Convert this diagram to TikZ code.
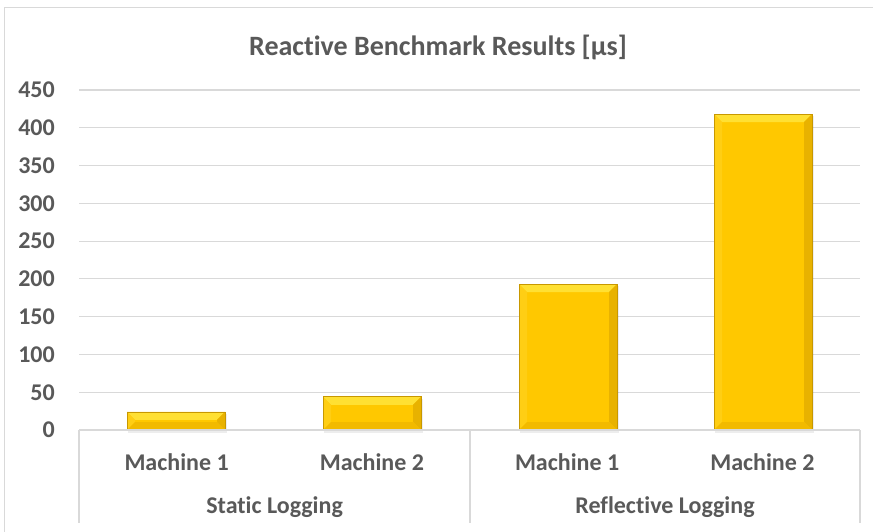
\documentclass[tikz,border=0pt]{standalone}
\usepackage{fontspec}
\setmainfont[Ligatures={NoCommon,NoDiscretionary,NoContextual}]{Carlito}
\begin{document}
\begin{tikzpicture}[x=1pt,y=-1pt,
  lbl/.style={text=txtgray,font=\bfseries\fontsize{24}{24}\selectfont,inner sep=0pt},
  grid/.style={draw=gridgray,line width=1.2pt},
  sep/.style={draw=gridgray,line width=1.2pt}]
\definecolor{txtgray}{HTML}{595959}
\definecolor{gridgray}{HTML}{D9D9D9}
\definecolor{goldmid}{HTML}{FFC800}
\definecolor{goldtop}{HTML}{FFE033}
\definecolor{goldleft}{HTML}{FFCE14}
\definecolor{goldright}{HTML}{E8B200}
\definecolor{goldbot}{HTML}{F2BA00}
\definecolor{goldline}{HTML}{C89800}
\useasboundingbox (0,0) rectangle (873,532);
% white page and outer frame
\fill[white] (0,0) rectangle (873,532);
\draw[gridgray,line width=1.2pt] (4.5,7.5) rectangle (890,560);
% title
\node[text=txtgray,font=\bfseries\fontsize{28}{28}\selectfont,inner sep=0pt] (title) at (438,47) {Reactive Benchmark Results [µs]};
% horizontal gridlines and value labels (340 px span for 450 units)
\foreach \v in {50,100,...,450}{
  \pgfmathsetmacro\yy{430-\v*0.755556}
  \draw[grid] (79,\yy) -- (860,\yy);
}
\foreach \v in {0,50,...,450}{
  \pgfmathsetmacro\yy{430-\v*0.755556}
  \node[lbl,anchor=east] (tick\v) at (55,\yy) {\v};
}
% bevelled bars: centre x, value
\newcommand\goldbar[2]{%
  \pgfmathsetmacro\xl{#1-49}%
  \pgfmathsetmacro\xr{#1+49}%
  \pgfmathsetmacro\yt{430-#2*0.755556}%
  \pgfmathsetmacro\yb{430}%
  \fill[black,opacity=0.07] (\xl+1,\yt+2) rectangle (\xr+2,\yb+3);
  \fill[goldmid] (\xl,\yt) rectangle (\xr,\yb);
  \fill[goldtop] (\xl,\yt) -- (\xr,\yt) -- (\xr-8,\yt+8) -- (\xl+8,\yt+8) -- cycle;
  \fill[goldleft] (\xl,\yt) -- (\xl+8,\yt+8) -- (\xl+8,\yb-8) -- (\xl,\yb) -- cycle;
  \fill[goldright] (\xr,\yt) -- (\xr-8,\yt+8) -- (\xr-8,\yb-8) -- (\xr,\yb) -- cycle;
  \fill[goldbot] (\xl,\yb) -- (\xl+8,\yb-8) -- (\xr-8,\yb-8) -- (\xr,\yb) -- cycle;
  \draw[goldline,line width=0.6pt] (\xl,\yt) rectangle (\xr,\yb);
}
\goldbar{176}{24}
\goldbar{372}{44}
\goldbar{568}{193}
\goldbar{763}{418}
% category axis
\draw[sep] (79,430) -- (860,430);
\draw[sep] (79,430) -- (79,523);
\draw[sep] (470,430) -- (470,523);
\draw[sep] (860,430) -- (860,523);
\node[lbl] (m1a) at (176.6,462) {Machine 1};
\node[lbl] (m2a) at (371.9,462) {Machine 2};
\node[lbl] (m1b) at (567.1,462) {Machine 1};
\node[lbl] (m2b) at (762.4,462) {Machine 2};
\node[lbl] (grpA) at (274.6,507) {Static Logging};
\node[lbl] (grpB) at (665,507) {Reflective Logging};
\end{tikzpicture}
\end{document}
